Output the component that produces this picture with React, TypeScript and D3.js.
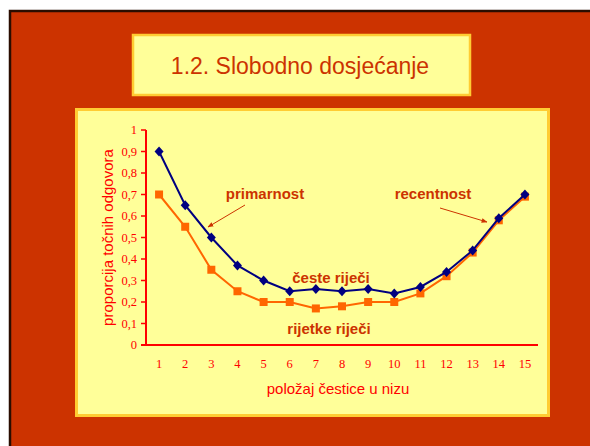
import React, { FC } from 'react'
import * as d3 from 'd3'

const positions = [1, 2, 3, 4, 5, 6, 7, 8, 9, 10, 11, 12, 13, 14, 15]
const cesteRijeci = [0.9, 0.65, 0.5, 0.37, 0.3, 0.25, 0.26, 0.25, 0.26, 0.24, 0.27, 0.34, 0.44, 0.59, 0.7]
const rijetkeRijeci = [0.7, 0.55, 0.35, 0.25, 0.2, 0.2, 0.17, 0.18, 0.2, 0.2, 0.24, 0.32, 0.43, 0.58, 0.69]
const yTicks = [0, 0.1, 0.2, 0.3, 0.4, 0.5, 0.6, 0.7, 0.8, 0.9, 1]

const W = 590
const H = 446
const sans = "'Liberation Sans', Arial, sans-serif"
const serif = "'Liberation Serif', 'Times New Roman', serif"
const slideRed = '#CC3300'
const axisRed = '#FF0000'
const boxFill = '#FFFF99'
const boxStroke = '#FFCC33'

const App: FC = () => {
	const x = d3.scalePoint<number>().domain(positions).range([146, 538]).padding(0.5)
	const y = d3.scaleLinear().domain([0, 1]).range([345, 130])

	const line = d3
		.line<number>()
		.x((_, i) => x(positions[i]) as number)
		.y((d) => y(d))

	const diamond = 'M0,-5L4.5,0L0,5L-4.5,0Z'
	const fmt = (v: number) => (v === 0 || v === 1 ? String(v) : v.toFixed(1).replace('.', ','))

	return (
		<svg
			width={W}
			height={H}
			style={{ position: 'absolute', left: 0, top: 0, display: 'block' }}
		>
			<defs>
				<marker id="arr" viewBox="0 0 10 10" refX="9" refY="5" markerWidth="6" markerHeight="6" orient="auto">
					<path d="M0,1L10,5L0,9Z" fill={slideRed} />
				</marker>
			</defs>
			<rect x={0} y={0} width={W} height={H} fill="#FFFFFF" />
			{/* slide */}
			<rect x={10} y={11} width={W + 10} height={H + 10} fill={slideRed} stroke="#2a0d00" strokeWidth={2.5} />

			{/* title box */}
			<rect x={133} y={35} width={337} height={60} fill={boxFill} stroke={boxStroke} strokeWidth={2.5} />
			<text x={300} y={66} textAnchor="middle" dominantBaseline="central" fontFamily={sans} fontSize={23} fill={slideRed}>
				1.2. Slobodno dosjećanje
			</text>

			{/* chart box */}
			<rect x={76.5} y={109.5} width={472} height={306} fill={boxFill} stroke={boxStroke} strokeWidth={3} />

			{/* y axis */}
			<line x1={146} x2={146} y1={y(1)} y2={y(0)} stroke={axisRed} strokeWidth={2} />
			{yTicks.map((t) => (
				<g key={t}>
					<line x1={141} x2={146} y1={y(t)} y2={y(t)} stroke={axisRed} strokeWidth={1.5} />
					<text x={137} y={y(t)} textAnchor="end" dominantBaseline="central" fontFamily={serif} fontSize={12.5} fill={axisRed}>
						{fmt(t)}
					</text>
				</g>
			))}
			{/* x axis */}
			<line x1={141} x2={538} y1={y(0)} y2={y(0)} stroke={axisRed} strokeWidth={2} />
			{positions.map((p) => (
				<text key={p} x={x(p)} y={364} textAnchor="middle" dominantBaseline="central" fontFamily={serif} fontSize={12.5} fill={axisRed}>
					{p}
				</text>
			))}
			<text x={338} y={388} textAnchor="middle" dominantBaseline="central" fontFamily={sans} fontSize={15} fill={axisRed}>
				položaj čestice u nizu
			</text>
			<text
				transform={`translate(107,${(y(0) + y(1)) / 2}) rotate(-90)`}
				textAnchor="middle"
				dominantBaseline="central"
				fontFamily={sans}
				fontSize={15}
				fill={axisRed}
			>
				proporcija točnih odgovora
			</text>

			{/* series */}
			<path d={line(rijetkeRijeci) || ''} fill="none" stroke="#FF6600" strokeWidth={2} />
			{rijetkeRijeci.map((v, i) => (
				<rect key={i} x={(x(positions[i]) as number) - 4} y={y(v) - 4} width={8} height={8} fill="#FF6600" />
			))}
			<path d={line(cesteRijeci) || ''} fill="none" stroke="#000080" strokeWidth={2} />
			{cesteRijeci.map((v, i) => (
				<path key={i} d={diamond} transform={`translate(${x(positions[i])},${y(v)})`} fill="#000080" />
			))}

			{/* annotations */}
			<g fontFamily={sans} fontSize={15} fontWeight="bold" fill={slideRed} textAnchor="middle">
				<text x={265} y={193} dominantBaseline="central">primarnost</text>
				<text x={433} y={193} dominantBaseline="central">recentnost</text>
				<text x={331} y={277} dominantBaseline="central">česte riječi</text>
				<text x={329} y={328} dominantBaseline="central">rijetke riječi</text>
			</g>
			<line x1={245} y1={205} x2={208} y2={227} stroke={slideRed} strokeWidth={1} markerEnd="url(#arr)" />
			<line x1={440} y1={208} x2={487} y2={222} stroke={slideRed} strokeWidth={1} markerEnd="url(#arr)" />
		</svg>
	)
}

export default App
